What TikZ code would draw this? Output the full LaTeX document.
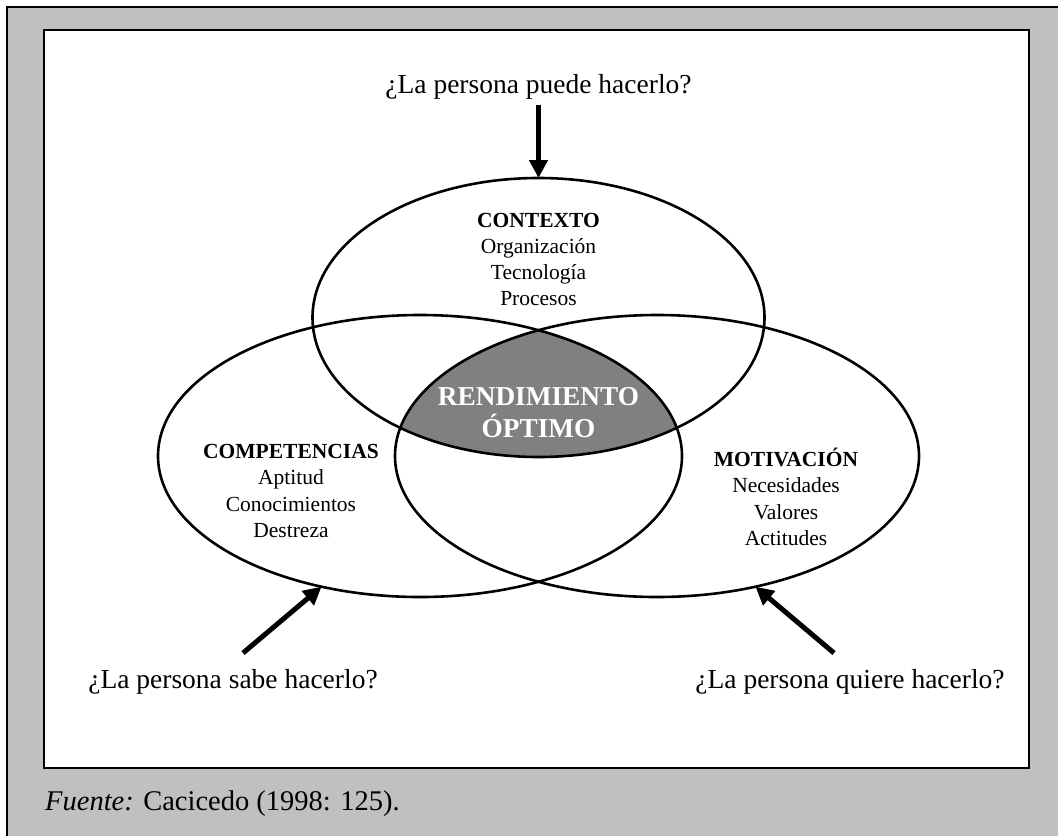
\documentclass[tikz,border=0pt]{standalone}
\usepackage{fontspec}
\setmainfont{Liberation Serif}
\usetikzlibrary{shapes.geometric,arrows.meta}
\pgfdeclarelayer{back}
\pgfdeclarelayer{shade}
\pgfsetlayers{back,shade,main}
\definecolor{pagegray}{HTML}{C0C0C0}
\definecolor{coregray}{HTML}{808080}
\begin{document}
\begin{tikzpicture}[x=1pt,y=-1pt,
  set/.style={ellipse, draw, line width=2.6pt, inner sep=0pt, outer sep=0pt},
  title/.style={anchor=base, inner sep=0pt, font=\fontsize{21.5}{26}\selectfont\bfseries},
  item/.style={anchor=base, inner sep=0pt, font=\fontsize{21.5}{26}\selectfont},
  core/.style={anchor=base, inner sep=0pt, text=white, font=\fontsize{27.3}{32}\selectfont\bfseries},
  question/.style={anchor=base, inner sep=0pt, font=\fontsize{27.5}{33}\selectfont},
  source/.style={anchor=base west, inner sep=0pt, font=\fontsize{28.5}{34}\selectfont},
  push/.style={line width=5pt, -{Triangle[length=18pt,width=18pt]}},
]
\useasboundingbox (0,0) rectangle (1058,836);

% page frame and white panel
\begin{pgfonlayer}{back}
  \fill[white] (0,0) rectangle (1058,836);
  \fill[pagegray] (7,7) rectangle (1058,836);
  \draw[line width=1.6pt] (7,836) -- (7,7) -- (1058,7);
  \draw[line width=2.6pt, fill=white] (44,30) rectangle (1029,768);
\end{pgfonlayer}

% the three sets
\node[set, minimum width=452pt, minimum height=279pt] (ctx)   at (538.5,317.5) {};
\node[set, minimum width=524pt, minimum height=282pt] (comp)  at (420,456) {};
\node[set, minimum width=524pt, minimum height=282pt] (motiv) at (657,456) {};

% shaded common region
\begin{pgfonlayer}{shade}
  \begin{scope}
    \clip (ctx.center) ellipse [x radius=226pt, y radius=139.5pt];
    \clip (comp.center) ellipse [x radius=262pt, y radius=141pt];
    \fill[coregray] (motiv.center) ellipse [x radius=262pt, y radius=141pt];
  \end{scope}
\end{pgfonlayer}

% set labels
\node[title] (ctxT) at (538.5,227) {CONTEXTO};
\node[item]  (ctx1) at (538.5,253) {Organización};
\node[item]  (ctx2) at (538.5,279) {Tecnología};
\node[item]  (ctx3) at (538.5,305) {Procesos};

\node[title] (compT) at (291,458) {COMPETENCIAS};
\node[item]  (comp1) at (291,484.5) {Aptitud};
\node[item]  (comp2) at (291,511) {Conocimientos};
\node[item]  (comp3) at (291,537) {Destreza};

\node[title] (motT) at (786,466) {MOTIVACIÓN};
\node[item]  (mot1) at (786,492.5) {Necesidades};
\node[item]  (mot2) at (786,519) {Valores};
\node[item]  (mot3) at (786,545.5) {Actitudes};

\node[core] (core1) at (538.5,405) {RENDIMIENTO};
\node[core] (core2) at (538.5,437) {ÓPTIMO};

% guiding questions
\node[question] (qpuede)  at (538.5,93) {¿La persona puede hacerlo?};
\node[question] (qsabe)   at (233,688) {¿La persona sabe hacerlo?};
\node[question] (qquiere) at (850,688) {¿La persona quiere hacerlo?};

\coordinate (stopT) at (538.5,105);
\coordinate (stopL) at (243,653);
\coordinate (stopR) at (834,653);
\draw[push] (stopT) -- (ctx.north);
\draw[push] (stopL) -- (comp.-127);
\draw[push] (stopR) -- (motiv.-53);

% source line
\node[source] (src) at (45,810) {\textit{Fuente:} Cacicedo (1998: 125).};
\end{tikzpicture}
\end{document}
